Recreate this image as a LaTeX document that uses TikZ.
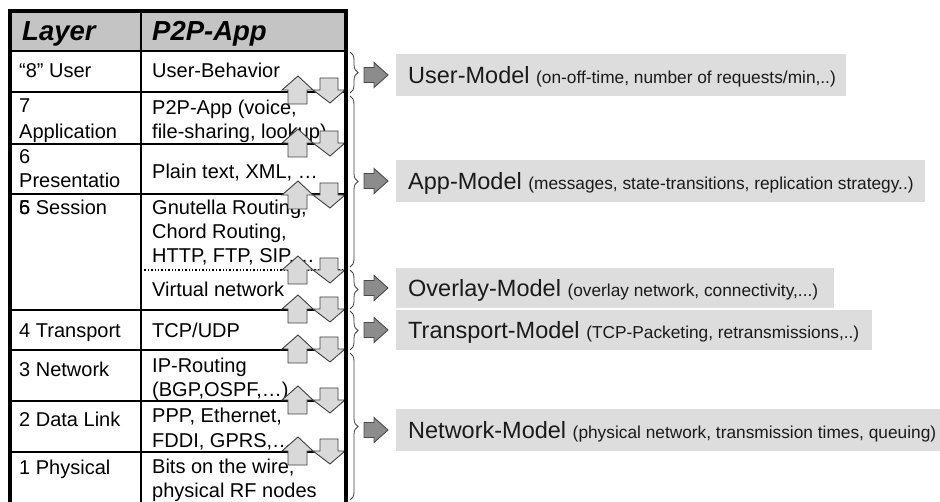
\documentclass[tikz,border=0pt]{standalone}
\usepackage{fontspec}
\setmainfont{Liberation Sans}
\usetikzlibrary{decorations.pathreplacing}

\definecolor{hdrgray}{HTML}{C4C4C4}
\definecolor{boxgray}{HTML}{DDDDDD}
\definecolor{pairfill}{HTML}{D9D9D9}
\definecolor{pairedge}{HTML}{404040}
\definecolor{ptrfill}{HTML}{8C8C8C}
\definecolor{ptredge}{HTML}{4A4A4A}
\definecolor{braceedge}{HTML}{404040}
\definecolor{modeltxt}{HTML}{1A1A1A}

% up/down block-arrow pair sitting on a layer boundary at height #1
\newcommand\layerpair[1]{%
  \draw[updown] (298,{#1-14}) -- (313,#1) -- (307,#1) -- (307,{#1+14})
    -- (288,{#1+14}) -- (288,#1) -- (282,#1) -- cycle;
  \draw[updown] (320,{#1-12}) -- (338,{#1-12}) -- (338,#1) -- (345,#1)
    -- (330,{#1+13}) -- (313,#1) -- (320,#1) -- cycle;
}
% grey pointer arrow leaving a brace at height #1
\newcommand\modelpointer[1]{%
  \draw[pointer] (364,{#1-7.5}) -- (374,{#1-7.5}) -- (374,{#1-12.5}) -- (388,#1)
    -- (374,{#1+12.5}) -- (374,{#1+7.5}) -- (364,{#1+7.5}) -- cycle;
}

\tikzset{
  grid/.style={line width=1.4pt},
  frame/.style={line width=4pt, line join=miter},
  cell/.style={anchor=base west, inner sep=0pt, font=\fontsize{20}{24}\selectfont},
  hdr/.style={anchor=base west, inner sep=0pt, font=\fontsize{27.5}{32}\selectfont\bfseries\itshape},
  updown/.style={fill=pairfill, draw=pairedge, line width=0.9pt, line join=miter},
  pointer/.style={fill=ptrfill, draw=ptredge, line width=0.9pt, line join=miter},
  modelbox/.style={fill=boxgray, draw=none},
  modeltext/.style={anchor=base west, inner sep=0pt, text=modeltxt, font=\fontsize{23.5}{27}\selectfont},
  bracket/.style={draw=braceedge, line width=0.8pt, decorate, decoration={brace, amplitude=8pt}},
}
\newcommand\subnote{\fontsize{17.3}{20}\selectfont}

\begin{document}
\begin{tikzpicture}[x=1pt, y=-1pt]
\useasboundingbox (0,0) rectangle (940,502);
\clip (0,0) rectangle (940,502);

% header band
\fill[hdrgray] (10,11) rectangle (346,51);

% row separators and column divider
\foreach \yy in {51,92,144,194,310,350,401,452}
  {\draw[grid] (10,\yy) -- (346,\yy);}
\draw[grid, dotted] (141,270) -- (346,270);
\draw[grid] (141,11) -- (141,502);

% header
\node[hdr] (hLayer) at (22,41) {Layer};
\node[hdr] (hApp) at (152,41) {P2P-App};

% layer names
\node[cell] (l8) at (19,78) {“8” User};
\node[cell] (l7a) at (19,113) {7};
\node[cell] (l7b) at (19,139) {Application};
\node[cell] (l6a) at (19,164) {6};
\node[cell] (l6b) at (19,188) {Presentatio};
\node[cell] (l5) at (19,215) {5 Session};
\node[cell] (l5x) at (19,215) {6};
\node[cell] (l4) at (19,338) {4 Transport};
\node[cell] (l3) at (19,377) {3 Network};
\node[cell] (l2) at (19,427) {2 Data Link};
\node[cell] (l1) at (19,475) {1 Physical};

% P2P column
\node[cell] (p8) at (152,78) {User-Behavior};
\node[cell] (p7a) at (152,115) {P2P-App (voice,};
\node[cell] (p7b) at (152,139) {file-sharing, lookup)};
\node[cell] (p6) at (152,179) {Plain text, XML, …};
\node[cell] (p5a) at (152,215) {Gnutella Routing,};
\node[cell] (p5b) at (152,239) {Chord Routing,};
\node[cell] (p5c) at (152,263) {HTTP, FTP, SIP,…};
\node[cell] (p5d) at (152,297) {Virtual network};
\node[cell] (p4) at (152,338) {TCP/UDP};
\node[cell] (p3a) at (152,373) {IP-Routing};
\node[cell] (p3b) at (152,397) {(BGP,OSPF,…)};
\node[cell] (p2a) at (152,423) {PPP, Ethernet,};
\node[cell] (p2b) at (152,447) {FDDI, GPRS,…};
\node[cell] (p1a) at (152,473) {Bits on the wire,};
\node[cell] (p1b) at (152,497) {physical RF nodes};

% interaction arrows between neighbouring layers
\foreach \bb in {90,143,195,270,309,349,400,451}
  {\layerpair{\bb}}

% outer frame, open at the bottom
\draw[frame] (10,510) -- (10,11) -- (346,11) -- (346,510);

% braces grouping the layers
\coordinate (bUserT) at (350,52);  \coordinate (bUserB) at (350,93);
\coordinate (bAppT) at (350,96);   \coordinate (bAppB) at (350,267);
\coordinate (bOvlT) at (350,270);  \coordinate (bOvlB) at (350,309);
\coordinate (bTrpT) at (350,311);  \coordinate (bTrpB) at (350,350);
\coordinate (bNetT) at (350,353);  \coordinate (bNetB) at (350,500);
\draw[bracket] (bUserT) -- (bUserB);
\draw[bracket] (bAppT) -- (bAppB);
\draw[bracket] (bOvlT) -- (bOvlB);
\draw[bracket] (bTrpT) -- (bTrpB);
\draw[bracket] (bNetT) -- (bNetB);

% pointers to the models
\modelpointer{75}
\modelpointer{181}
\modelpointer{288}
\modelpointer{330}
\modelpointer{430}

% model boxes
\fill[modelbox] (396,54) rectangle (846,96);
\fill[modelbox] (396,160) rectangle (925,202);
\fill[modelbox] (396,268) rectangle (834,308);
\fill[modelbox] (396,310) rectangle (872,350);
\fill[modelbox] (396,409) rectangle (940,451);

\node[modeltext] (mUser) at (408,83.4) {User-Model {\subnote(on-off-time, number of requests/min,..)}};
\node[modeltext] (mApp) at (408,189.4) {App-Model {\subnote(messages, state-transitions, replication strategy..)}};
\node[modeltext] (mOvl) at (408,296.4) {Overlay-Model {\subnote(overlay network, connectivity,...)}};
\node[modeltext] (mTrp) at (408,338.4) {Transport-Model {\subnote(TCP-Packeting, retransmissions,..)}};
\node[modeltext] (mNet) at (408,438.4) {Network-Model {\subnote(physical network, transmission times, queuing)}};
\end{tikzpicture}
\end{document}
